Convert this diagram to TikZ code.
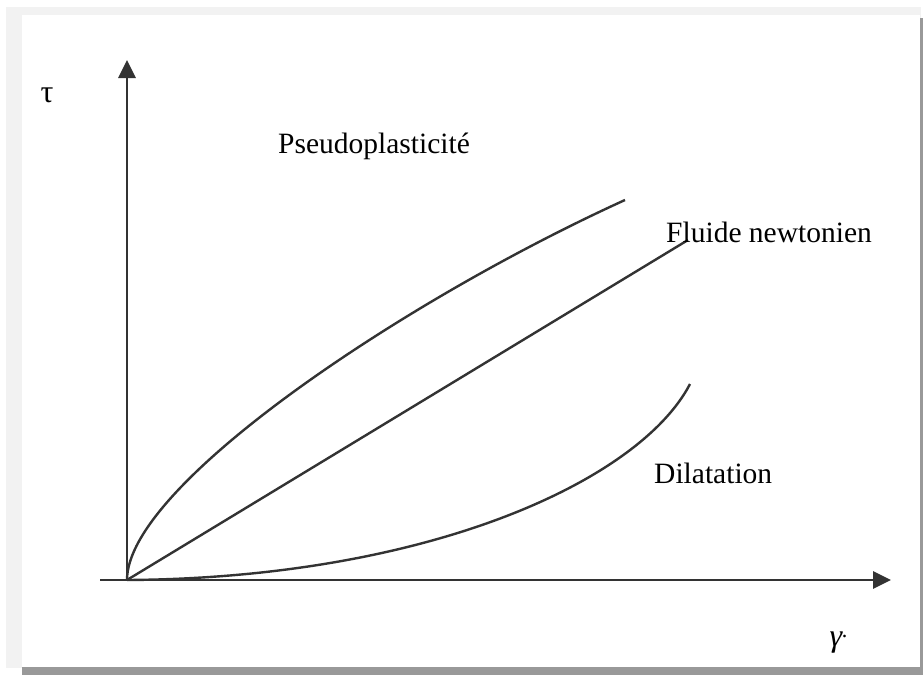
\documentclass[tikz,border=0pt]{standalone}
\usepackage{fontspec}
\setmainfont{Liberation Serif}
\usepackage{tikz}
\usetikzlibrary{arrows.meta}
\tikzstyle{axisline} =
[draw, line width=2.8pt, color=black!80, -{Triangle[length=18pt, width=17pt]}]
\tikzstyle{curve} =
[draw, line width=2.4pt, color=black!80]
\tikzstyle{curvename} =
[anchor=base west, inner sep=0pt, font=\fontsize{29.5}{34}\selectfont]
\tikzstyle{axisname} =
[inner sep=0pt, font=\fontsize{32}{36}\selectfont]

\begin{document}
\begin{tikzpicture}[x=1pt, y=-1pt]
  % frame and shadow
  \useasboundingbox (0,0) rectangle (923,675);
  \fill [white] (0,0) rectangle (923,675);
  \fill [black!5] (6,7) rectangle (921,668);
  \fill [black!40] (22,18) rectangle (923,675);
  \fill [white] (22,15) rectangle (920,667);
  % axes
  \coordinate (o) at (127,580);
  \coordinate (xstart) at (100,580);
  \coordinate (xend) at (891,580);
  \coordinate (ytop) at (127,60);
  \path [axisline] (xstart) -- (xend);
  \path [axisline] (o) -- (ytop);
  % curves
  \coordinate (pend) at (625,200);
  \coordinate (nend) at (688,240);
  \coordinate (dend) at (690,384);
  \path [curve] (o) .. controls (127,485) and (405,300) .. (pend);
  \path [curve] (o) -- (nend);
  \path [curve] (o) .. controls (430,578) and (640,480) .. (dend);
  % texts
  \node [curvename] (pseudo) at (278,153) {Pseudoplasticité};
  \node [curvename] (newton) at (666,242) {Fluide newtonien};
  \node [curvename] (dilat) at (654,483) {Dilatation};
  \node [axisname] (tau) at (47,95) {τ};
  \node [axisname] (gamma) at (839,643) {\itshape γ\textsuperscript{.}};
\end{tikzpicture}
\end{document}
